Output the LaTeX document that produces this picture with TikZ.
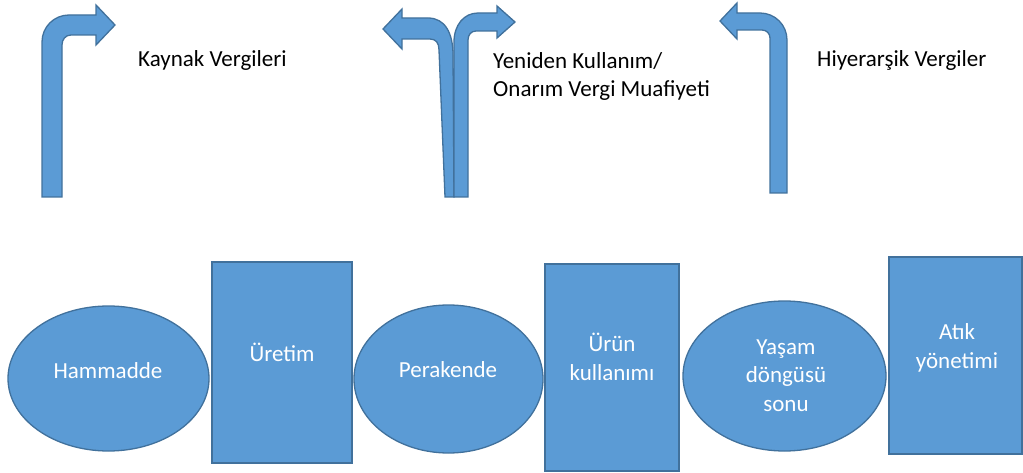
\documentclass[tikz,border=0pt]{standalone}
\usepackage{fontspec}
\setmainfont{Carlito}
\usetikzlibrary{shapes.geometric}

\definecolor{boxblue}{HTML}{5B9BD5}
\definecolor{edgeblue}{HTML}{41719C}

\tikzset{
  stage/.style={draw=edgeblue, fill=boxblue, line width=1.3pt, inner sep=0pt},
  oval/.style={stage, ellipse},
  block/.style={stage, rectangle},
  inlabel/.style={text=white, align=center, inner sep=0pt,
    font=\fontsize{23}{28.5}\selectfont},
  toplabel/.style={text=black, align=left, inner sep=0pt,
    font=\fontsize{23}{28.5}\selectfont},
  bent/.style={draw=edgeblue, fill=boxblue, line width=1.3pt, line join=miter}
}

\begin{document}
\begin{tikzpicture}[x=1pt,y=-1pt]
\useasboundingbox (0,0) rectangle (1023,473);

% the six stages
\node[oval, minimum width=201, minimum height=145] (hammadde) at (108.5,378.5) {};
\node[block, minimum width=140, minimum height=201] (uretim) at (282,362.5) {};
\node[oval, minimum width=189, minimum height=148] (perakende) at (448.5,379) {};
\node[block, minimum width=134, minimum height=207] (kullanim) at (612,367.5) {};
\node[oval, minimum width=203, minimum height=150] (sonu) at (784.5,376) {};
\node[block, minimum width=133, minimum height=197] (atik) at (955.5,355.5) {};

% labels, anchored on the last baseline
\node[inlabel, anchor=base] (hammaddeT) at (108,378) {Hammadde};
\node[inlabel, anchor=base] (uretimT) at (282,361) {Üretim};
\node[inlabel, anchor=base] (perakendeT) at (448,377) {Perakende};
\node[inlabel, anchor=base] (kullanimT) at (612,380) {Ürün\\kullanımı};
\node[inlabel, anchor=base] (sonuT) at (786,411) {Yaşam\\döngüsü\\sonu};
\node[inlabel, anchor=base] (atikT) at (957,368) {Atık\\yönetimi};

% bent arrows on top
\draw[bent] (42,197) -- (42,42) .. controls (42,27) and (54,15) .. (69,15)
  -- (96,15) -- (96,5) -- (115,25) -- (96,45) -- (96,35) -- (71,35)
  .. controls (65.5,35) and (62,39.5) .. (62,45) -- (62,197) -- cycle;

\draw[bent] (454,197) -- (453,55) .. controls (453,33) and (445,18) .. (428,18)
  -- (402,18) -- (402,9) -- (383,29) -- (402,49) -- (402,39) -- (430,39)
  .. controls (436,39) and (439,43) .. (439,50) -- (445,197) -- cycle;
\draw[bent] (454,197) -- (454,42) .. controls (454,25) and (464,13) .. (478,13)
  -- (497,13) -- (497,6) -- (515,22) -- (497,38) -- (497,31) -- (476,31)
  .. controls (471,31) and (468,35) .. (468,40) -- (468,197) -- cycle;

\draw[bent] (787,193) -- (787,40) .. controls (787,25) and (775,13) .. (760,13)
  -- (737,13) -- (737,3) -- (720,21) -- (737,39) -- (737,30) -- (762,30)
  .. controls (766.5,30) and (770,33.5) .. (770,38) -- (770,193) -- cycle;

\node[toplabel, anchor=base west] (kaynak) at (138,67) {Kaynak Vergileri};
\node[toplabel, anchor=base west] (yeniden) at (493,97) {Yeniden Kullanım/\\Onarım Vergi Muafiyeti};
\node[toplabel, anchor=base west] (hiyerarsik) at (817,67) {Hiyerarşik Vergiler};
\end{tikzpicture}
\end{document}
